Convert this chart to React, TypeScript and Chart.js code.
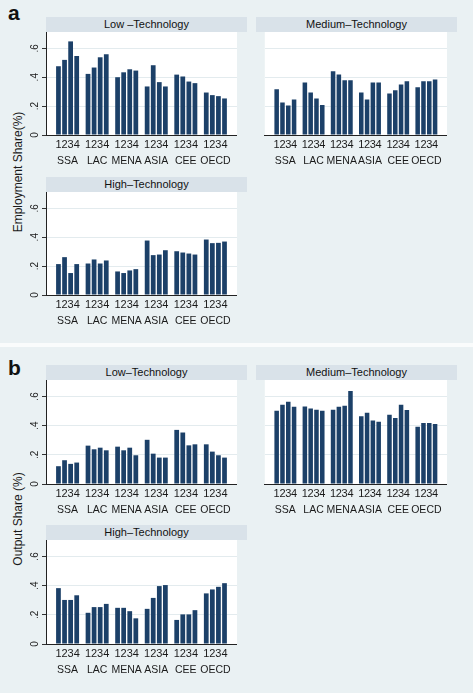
import React, { useEffect, useRef } from "react";
import { Chart, registerables } from "chart.js";

Chart.register(...registerables);

// ---------- data ----------
const regions = ["SSA", "LAC", "MENA", "ASIA", "CEE", "OECD"];
const periods = ["1", "2", "3", "4"];
const yTickValues = [0, 0.2, 0.4, 0.6];
const yTickLabels = ["0", ".2", ".4", ".6"];

// rows = regions, columns = periods 1..4
const empLow = [
  [0.476, 0.52, 0.648, 0.547],
  [0.423, 0.467, 0.538, 0.559],
  [0.4, 0.434, 0.455, 0.446],
  [0.336, 0.483, 0.366, 0.336],
  [0.418, 0.405, 0.37, 0.359],
  [0.294, 0.276, 0.269, 0.253],
];
const empMed = [
  [0.317, 0.225, 0.205, 0.246],
  [0.363, 0.294, 0.253, 0.207],
  [0.441, 0.418, 0.379, 0.379],
  [0.294, 0.246, 0.363, 0.363],
  [0.287, 0.31, 0.349, 0.372],
  [0.331, 0.372, 0.372, 0.384],
];
const empHigh = [
  [0.214, 0.262, 0.152, 0.214],
  [0.218, 0.246, 0.218, 0.239],
  [0.163, 0.152, 0.17, 0.179],
  [0.377, 0.276, 0.28, 0.31],
  [0.303, 0.294, 0.287, 0.28],
  [0.384, 0.359, 0.361, 0.37],
];
const outLow = [
  [0.122, 0.163, 0.138, 0.147],
  [0.263, 0.238, 0.249, 0.231],
  [0.256, 0.231, 0.249, 0.197],
  [0.303, 0.208, 0.181, 0.181],
  [0.371, 0.353, 0.265, 0.272],
  [0.272, 0.222, 0.197, 0.181],
];
const outMed = [
  [0.503, 0.543, 0.564, 0.53],
  [0.532, 0.518, 0.509, 0.503],
  [0.509, 0.53, 0.537, 0.638],
  [0.464, 0.489, 0.435, 0.426],
  [0.475, 0.453, 0.543, 0.507],
  [0.392, 0.419, 0.419, 0.412],
];
const outHigh = [
  [0.383, 0.302, 0.302, 0.334],
  [0.214, 0.253, 0.253, 0.275],
  [0.248, 0.248, 0.225, 0.176],
  [0.241, 0.316, 0.397, 0.404],
  [0.165, 0.203, 0.203, 0.232],
  [0.347, 0.374, 0.392, 0.417],
];

// ---------- style ----------
const FONT = "'Liberation Sans', Arial, Helvetica, sans-serif";
const BG = "#eaf1f3";
const STRIP = "#d9e2e9";
const BAR = "#1c4068";
const PLOT_W = 201;
const Y_AXIS_W = 22;
const X_AXIS_H = 36;
const STRIP_H = 15;

type PanelProps = {
  data: number[][];
  left: number;
  top: number;
  h: number;
  showY: boolean;
  title: string;
};

function Panel({ data, left, top, h, showY, title }: PanelProps) {
  const ref = useRef<HTMLCanvasElement>(null);
  const yw = showY ? Y_AXIS_W : 0;
  const cw = yw + PLOT_W + 4;
  const ch = h + X_AXIS_H;

  useEffect(() => {
    if (!ref.current) return;
    const datasets = periods.map((p, pi) => ({
      label: p,
      data: regions.map((_, ri) => ({ x: ri, y: data[ri][pi] })),
      backgroundColor: BAR,
      borderWidth: 0,
      categoryPercentage: 0.823,
      barPercentage: 0.78,
    }));

    const plotBg = {
      id: "plotBg",
      beforeDraw(chart: any) {
        const { ctx, chartArea } = chart;
        ctx.save();
        ctx.fillStyle = "#ffffff";
        ctx.fillRect(chartArea.left, chartArea.top, chartArea.right - chartArea.left, chartArea.bottom - chartArea.top);
        ctx.restore();
      },
    };

    const extraLabels = {
      id: "extraLabels",
      afterDraw(chart: any) {
        const { ctx, chartArea } = chart;
        ctx.save();
        ctx.fillStyle = "#1a1a1a";
        ctx.font = `11px ${FONT}`;
        ctx.textAlign = "center";
        ctx.textBaseline = "alphabetic";
        chart.data.datasets.forEach((_: any, di: number) => {
          const meta = chart.getDatasetMeta(di);
          meta.data.forEach((el: any) => {
            ctx.fillText(periods[di], el.x, chartArea.bottom + 13);
          });
        });
        if (showY) {
          const ys = chart.scales.y;
          ctx.font = `10px ${FONT}`;
          ctx.textBaseline = "middle";
          yTickValues.forEach((v, i) => {
            const y = ys.getPixelForValue(v);
            ctx.save();
            ctx.translate(chartArea.left - 11, y);
            ctx.rotate(-Math.PI / 2);
            ctx.fillText(yTickLabels[i], 0, 0);
            ctx.restore();
          });
        }
        ctx.restore();
      },
    };

    const chart = new Chart(ref.current, {
      type: "bar",
      data: { datasets } as any,
      options: {
        animation: false,
        responsive: false,
        maintainAspectRatio: false,
        layout: { padding: { left: 0, right: 4, top: 0, bottom: 0 } },
        plugins: { legend: { display: false }, tooltip: { enabled: false } },
        scales: {
          x: {
            type: "linear",
            min: -0.73,
            max: 5.73,
            offset: false,
            grid: { display: false, drawTicks: false },
            border: { display: true, color: "#222222", width: 1 },
            afterBuildTicks: (s: any) => {
              s.ticks = regions.map((_, i) => ({ value: i }));
            },
            afterFit: (s: any) => {
              s.height = X_AXIS_H;
            },
            ticks: {
              autoSkip: false,
              maxRotation: 0,
              minRotation: 0,
              padding: 20,
              color: "#1a1a1a",
              font: { family: FONT, size: 10.5 },
              callback: (v: any) => regions[Math.round(Number(v))] ?? "",
            },
          },
          y: {
            min: 0,
            max: 0.713,
            afterBuildTicks: (s: any) => {
              s.ticks = yTickValues.map((v) => ({ value: v }));
            },
            afterFit: (s: any) => {
              s.width = yw;
            },
            grid: {
              color: "#e3ebee",
              drawTicks: showY,
              tickLength: 4,
              tickColor: "#333333",
              tickWidth: 1,
            },
            border: { display: showY, color: "#222222", width: 1 },
            ticks: { display: false },
          },
        },
      } as any,
      plugins: [plotBg, extraLabels],
    });
    return () => chart.destroy();
  }, []);

  return (
    <>
      <div
        style={{
          position: "absolute",
          left,
          top: top - STRIP_H,
          width: PLOT_W,
          height: STRIP_H,
          background: STRIP,
          color: "#111",
          fontFamily: FONT,
          fontSize: 11,
          lineHeight: `${STRIP_H}px`,
          textAlign: "center",
          whiteSpace: "nowrap",
        }}
      >
        {title}
      </div>
      <canvas
        ref={ref}
        width={cw}
        height={ch}
        style={{ position: "absolute", left: left - yw, top, width: cw, height: ch }}
      />
    </>
  );
}

export default function App() {
  return (
    <div
      style={{
        position: "absolute",
        left: 0,
        top: 0,
        width: 473,
        height: 693,
        background: BG,
        overflow: "hidden",
        fontFamily: FONT,
      }}
    >
      <div style={{ position: "absolute", left: 0, top: 343, width: 473, height: 4, background: "#fafcfc" }} />

      <div style={{ position: "absolute", left: 8, top: 2, fontSize: 21, lineHeight: "21px", fontWeight: "bold", color: "#111" }}>a</div>
      <div style={{ position: "absolute", left: 8, top: 357, fontSize: 21, lineHeight: "21px", fontWeight: "bold", color: "#111" }}>b</div>

      <div
        style={{
          position: "absolute",
          left: 18 - 100,
          top: 172 - 8,
          width: 200,
          height: 16,
          lineHeight: "16px",
          fontSize: 12,
          textAlign: "center",
          color: "#1a1a1a",
          transform: "rotate(-90deg)",
          whiteSpace: "nowrap",
        }}
      >
        Employment Share(%)
      </div>
      <div
        style={{
          position: "absolute",
          left: 18 - 100,
          top: 519 - 8,
          width: 200,
          height: 16,
          lineHeight: "16px",
          fontSize: 12,
          textAlign: "center",
          color: "#1a1a1a",
          transform: "rotate(-90deg)",
          whiteSpace: "nowrap",
        }}
      >
        Output Share (%)
      </div>

      <Panel data={empLow} left={46} top={32} h={103} showY={true} title="Low –Technology" />
      <Panel data={empMed} left={256} top={32} h={103} showY={false} title="Medium–Technology" />
      <Panel data={empHigh} left={46} top={192} h={103} showY={true} title="High–Technology" />
      <Panel data={outLow} left={46} top={380} h={104} showY={true} title="Low–Technology" />
      <Panel data={outMed} left={256} top={380} h={104} showY={false} title="Medium–Technology" />
      <Panel data={outHigh} left={46} top={540} h={104} showY={true} title="High–Technology" />
    </div>
  );
}
